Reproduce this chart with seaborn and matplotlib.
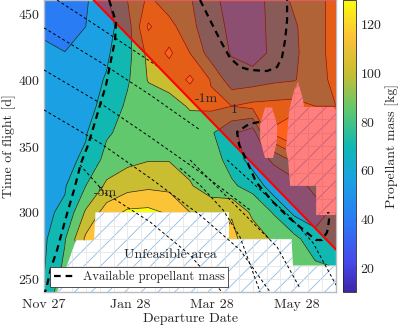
import numpy as np
import matplotlib
matplotlib.use("Agg")
import matplotlib.pyplot as plt
import seaborn as sns
from matplotlib.colors import LinearSegmentedColormap, ListedColormap, BoundaryNorm, Normalize
from matplotlib.patches import Polygon, PathPatch
from matplotlib.path import Path
from matplotlib.lines import Line2D
import matplotlib.cm as cm

# departure (days after Nov 27) and time of flight [d]
departure = [0, 15, 30, 45, 60, 75, 90, 105, 120, 135, 150, 165, 180, 195, 210]
tof = [240, 260, 280, 300, 320, 340, 360, 380, 400, 420, 440, 460]

# propellant mass [kg], one row per tof value
mass = [
    [71, 100, 110, 118, 120, 120, 115, 110, 105, 103, 98, 92, 90, 88, 86],
    [69, 88, 105, 118, 125, 126, 122, 113, 108, 108, 102, 94, 90, 87, 84],
    [67.5, 84, 118, 125, 132, 133, 128, 118, 112, 118, 108, 98, 89, 76, 78],
    [68, 72, 102, 122, 133, 134, 128, 115, 108, 114, 97, 84, 67, 62, 75],
    [67, 69, 85, 103, 109, 112, 111, 101, 94, 87, 80, 62, 62, 75, 85],
    [66, 67, 72, 90, 96, 99, 99, 96, 91, 80, 63, 72, 90, 100, 100],
    [65, 67, 69, 83, 90, 94, 96, 95, 87, 73, 62, 118, 135, 110, 105],
    [63, 65, 66, 74, 88, 92, 96, 101, 103, 100, 104, 105, 106, 100, 100],
    [60, 62, 65, 71, 83, 101, 104, 118, 99, 76, 78, 82, 84, 94, 104],
    [58, 55.5, 60, 68, 80, 104, 118, 100, 78, 69, 62, 74, 82, 95, 105],
    [52, 46, 55, 65, 78, 117, 105, 90, 74, 68, 60, 76, 83, 95, 105],
    [45, 47, 53, 68, 85, 103, 92, 86, 76, 62, 62, 76, 88, 96, 104],
]
levels = [40, 55, 70, 85, 100, 115, 130]

# available propellant mass contour (departure, tof)
avail_dep = [[46.8, 51.8, 51.1, 48.2, 44.6, 40.3, 36.0, 31.7, 26.6, 21.6, 17.3, 12.9, 9.4, 5.0, 2.2, 0.7],
             [112.2, 119.4, 126.6, 133.8, 141.0, 148.2, 160.4, 167.6, 171.2, 173.4, 174.8, 174.8],
             [154.7, 147.5, 138.8, 140.3, 144.6, 152.5, 164.7, 176.3, 188.5, 195.7, 200.0, 203.6, 205.0, 204.3]]
avail_tof = [[460, 443.4, 429.9, 414.8, 396.0, 380.9, 365.8, 350.8, 337.2, 316.9, 301.8, 285.2, 271.7, 258.1, 245.3, 240],
             [460, 444.9, 429.9, 416.3, 409.5, 407.3, 406.5, 409.5, 417.1, 429.9, 444.9, 460],
             [368.1, 366.6, 360.6, 350.8, 341.7, 322.9, 307.8, 295.8, 285.2, 279.2, 279.2, 285.2, 294.3, 300.3]]

# thin dashed arrival contours
arr_dep = [[9.4, 40.3, 83.5],
           [0, 40.3, 76.3, 112.2],
           [0, 40.3, 76.3, 112.2, 148.2],
           [0, 40.3, 76.3, 112.2, 141, 162.6],
           [25.9, 43.9, 76.3, 105, 128],
           [97.8, 112.2, 128.8, 141, 155.4],
           [105.0, 131.7, 153.2, 167.6, 184.0],
           [131.7, 153.2, 177.0, 193.5, 210.0]]
arr_tof = [[460, 438.9, 408.8],
           [439, 413.3, 388.5, 362.1],
           [407.3, 382.4, 356.8, 330.4, 301.8],
           [377.2, 352.3, 325.9, 298, 271.7, 240],
           [335.7, 314.6, 292.8, 267.9, 240],
           [333.4, 320.6, 301.8, 281.4, 240],
           [339.5, 311.6, 289.0, 274.0, 243.0],
           [339.5, 319.2, 296.6, 277.0, 245.3]]
arr_labels = ["-5m", "-1m", "1"]
arr_label_dep = [43.9, 116.5, 136.7]
arr_label_tof = [314.6, 385.4, 377.0]

# late-arrival limit (red line)
late_dep = [35.6, 210]
late_tof = [460, 272]

# regions without solution
unfeas_dep = [37, 133, 133, 178, 179, 210, 210, 9.4, 16.5, 23, 36]
unfeas_tof = [300, 300, 280, 280, 260, 260, 240, 240, 260, 279, 279]
gap1_dep = [159, 164, 167.6, 167.6, 164.7, 159, 155.4, 155.4]
gap1_tof = [379, 379, 366, 354.5, 341, 341, 354.5, 366]
gap2_dep = [182.7, 186.3, 187, 207.9, 210, 210, 195.7, 195.7, 177, 175.5, 174, 176.3, 179.9]
gap2_tof = [398.3, 384.7, 379.4, 379.4, 377, 298, 298, 320, 320, 339.5, 347, 377, 392]

tick_pos = [0, 62, 121, 182]
tick_lab = ["Nov 27", "Jan 28", "Mar 28", "May 28"]

# parula-like colormap
parula = LinearSegmentedColormap.from_list("parula", [
    (0.00, "#3e26a8"), (0.10, "#4748eb"), (0.25, "#2a7cf5"), (0.375, "#1aa0e4"),
    (0.50, "#10b8b2"), (0.625, "#5fc86e"), (0.75, "#c8be32"), (0.875, "#fbc237"),
    (1.00, "#f9fb0e")])
norm = Normalize(10, 130)

sns.set_style("white")
plt.rcParams["font.family"] = ["cmr10", "DejaVu Serif"]
plt.rcParams["mathtext.fontset"] = "cm"
plt.rcParams["axes.formatter.use_mathtext"] = True
plt.rcParams["hatch.linewidth"] = 0.6

fig = plt.figure(figsize=(3.98, 3.30), dpi=100)
ax = fig.add_axes([0.1106, 0.115, 0.7337, 0.885])
cax = fig.add_axes([0.862, 0.115, 0.033, 0.885])

D, T = np.meshgrid(departure, tof)
Z = np.array(mass, dtype=float)

band_vals = [25] + levels
cols = [parula(norm(v)) for v in band_vals]
cmap_b = ListedColormap(cols[1:-1])
cmap_b.set_under(cols[0])
cmap_b.set_over(cols[-1])
ax.contourf(D, T, Z, levels=levels, cmap=cmap_b, norm=BoundaryNorm(levels, cmap_b.N),
            extend="both", zorder=1)
ax.contour(D, T, Z, levels=levels, colors="#202020", linewidths=0.5, zorder=1.5)

# no-solution regions, white with hatch
gap_path = Path.make_compound_path(
    Path(np.column_stack([unfeas_dep + [unfeas_dep[0]], unfeas_tof + [unfeas_tof[0]]]), closed=True),
    Path(np.column_stack([gap1_dep + [gap1_dep[0]], gap1_tof + [gap1_tof[0]]]), closed=True),
    Path(np.column_stack([gap2_dep + [gap2_dep[0]], gap2_tof + [gap2_tof[0]]]), closed=True))
gaps = PathPatch(gap_path, facecolor="white", edgecolor="#8cbbe8", hatch="//", lw=0, zorder=2)
ax.add_patch(gaps)

gx = np.arange(0, 211, 10)
gy = np.arange(240, 461, 10)
vl = ax.vlines(gx, 240, 460, colors="#e2e2e2", linewidths=0.5, zorder=2.2)
hl = ax.hlines(gy, 0, 210, colors="#e2e2e2", linewidths=0.5, zorder=2.2)
vl.set_clip_path(gaps)
hl.set_clip_path(gaps)

# thin dashed arrival lines, only below the red line
below = Polygon([(0, 240), (0, 460), (late_dep[0], late_tof[0]), (late_dep[1], late_tof[1]), (210, 240)],
                closed=True, transform=ax.transData, facecolor="none", edgecolor="none")
ax.add_patch(below)
for xs, ys in zip(arr_dep, arr_tof):
    sns.lineplot(x=xs, y=ys, sort=False, estimator=None, color="black", lw=0.7,
                 linestyle=(0, (3, 2.5)), ax=ax, zorder=3)
    ax.lines[-1].set_clip_path(below)

# late arrival area
ax.add_patch(Polygon([(late_dep[0], late_tof[0]), (210, 460), (late_dep[1], late_tof[1])],
                     closed=True, facecolor="red", alpha=0.5, edgecolor="none", zorder=4))
ax.plot(late_dep, late_tof, color="red", lw=1.5, zorder=5)

for xs, ys in zip(avail_dep, avail_tof):
    sns.lineplot(x=xs, y=ys, sort=False, estimator=None, color="black", lw=1.6,
                 linestyle=(0, (3, 2.2)), ax=ax, zorder=6)

for s, x, y in zip(arr_labels, arr_label_dep, arr_label_tof):
    ax.text(x, y, s, fontsize=10, ha="center", va="center", zorder=7)

ax.text(90.6, 267.9, "Unfeasible area", fontsize=10, ha="center", va="center", zorder=7)

handle = Line2D([], [], color="black", lw=1.6, linestyle=(0, (3, 2.2)))
leg = ax.legend([handle], ["Available propellant mass"], loc="lower left",
                bbox_to_anchor=(0.0205, 0.017), borderaxespad=0, fontsize=9,
                handlelength=1.7, handletextpad=0.6, borderpad=0.3,
                fancybox=False, framealpha=1, edgecolor="#333333")
leg.get_frame().set_linewidth(0.6)
leg.set_zorder(8)

ax.set_xlim(0, 210)
ax.set_ylim(240, 460)
ax.set_xticks(tick_pos)
ax.set_xticklabels(tick_lab)
ax.set_yticks([250, 300, 350, 400, 450])
ax.tick_params(direction="in", length=3, color="#666666", labelsize=10)
ax.tick_params(axis="x", pad=5)
ax.tick_params(axis="y", pad=3)
ax.set_xlabel("Departure Date", fontsize=10, labelpad=1)
ax.set_ylabel("Time of flight [d]", fontsize=10, labelpad=1)
for sp in ax.spines.values():
    sp.set_color("#bbbbbb")
    sp.set_linewidth(1.0)

sm = cm.ScalarMappable(norm=norm, cmap=parula)
cb = fig.colorbar(sm, cax=cax)
cb.set_ticks([20, 40, 60, 80, 100, 120])
cb.ax.tick_params(direction="in", length=3, labelsize=10, pad=3)
cb.outline.set_linewidth(0.6)
cb.set_label("Propellant mass [kg]", fontsize=10, labelpad=2)

fig.savefig("out.png", dpi=100)
